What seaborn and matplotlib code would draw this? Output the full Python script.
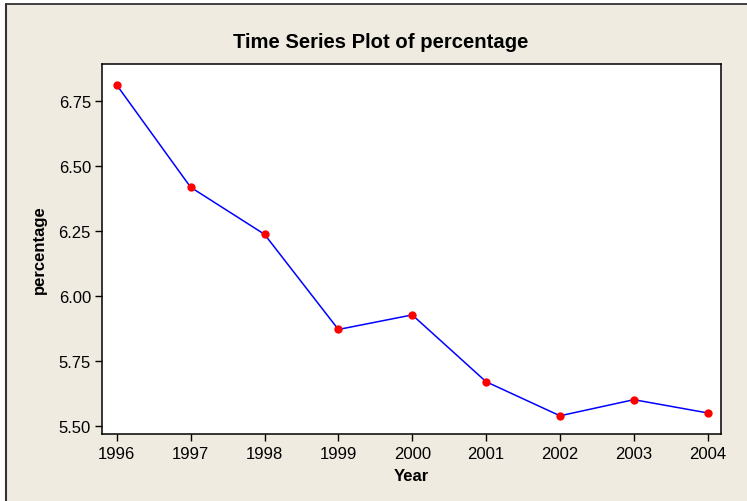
import matplotlib
matplotlib.use("Agg")
import matplotlib.pyplot as plt
import seaborn as sns
import pandas as pd
from matplotlib.patches import Rectangle
from matplotlib.ticker import FormatStrFormatter

years = [1996, 1997, 1998, 1999, 2000, 2001, 2002, 2003, 2004]
percentage = [6.81, 6.417, 6.236, 5.87, 5.926, 5.669, 5.538, 5.60, 5.549]
y_ticks = [5.50, 5.75, 6.00, 6.25, 6.50, 6.75]

df = pd.DataFrame({"Year": years, "percentage": percentage})

sns.set_theme(style="white")
plt.rcParams['font.family'] = ['Liberation Sans', 'DejaVu Sans']

W, H = 747, 502
bg = "#EFEBE1"
fig = plt.figure(figsize=(W / 100, H / 100), dpi=100)
fig.patch.set_facecolor(bg)
# white margins outside the frame (top strip and left strip)
fig.patches.append(Rectangle((0, 1 - 5 / H), 1, 5 / H, transform=fig.transFigure,
                             facecolor="white", edgecolor="none", zorder=-5))
fig.patches.append(Rectangle((0, 0), 6 / W, 1, transform=fig.transFigure,
                             facecolor="white", edgecolor="none", zorder=-5))
fig.lines.append(plt.Line2D([6 / W, 1], [1 - 5 / H, 1 - 5 / H], transform=fig.transFigure,
                            color="#222222", lw=1.2, zorder=-4))
fig.lines.append(plt.Line2D([6 / W, 6 / W], [0, 1 - 5 / H], transform=fig.transFigure,
                            color="#333333", lw=1.5, zorder=-4))

ax = fig.add_axes([102 / W, 1 - 435 / H, (721 - 102) / W, (435 - 65) / H])
ax.set_facecolor("white")

sns.lineplot(data=df, x="Year", y="percentage", ax=ax, color="#0000FF", lw=1.1,
             marker="o", markersize=6, markerfacecolor="#FF0000",
             markeredgecolor="#FF0000", markeredgewidth=0)

ax.set_xlim(1995.8, 2004.18)
ax.set_ylim(5.468, 6.891)
ax.set_xticks(years)
ax.set_yticks(y_ticks)
ax.yaxis.set_major_formatter(FormatStrFormatter("%.2f"))
ax.tick_params(axis="both", which="major", direction="out", length=5, width=1,
               color="black", labelsize=12, labelcolor="black", pad=3,
               bottom=True, left=True)
ax.tick_params(axis="x", pad=4)
for s in ax.spines.values():
    s.set_color("black")
    s.set_linewidth(1.1)

ax.set_xlabel("Year", fontsize=12, fontweight="bold", labelpad=5, color="black")
ax.set_ylabel("percentage", fontsize=12, fontweight="bold", labelpad=8, color="black")

fig.text(381 / W, 1 - 43 / H, "Time Series Plot of percentage", ha="center", va="center",
         fontsize=14.6, fontweight="bold", color="black")

fig.savefig("out.png", dpi=100, facecolor=fig.get_facecolor())
